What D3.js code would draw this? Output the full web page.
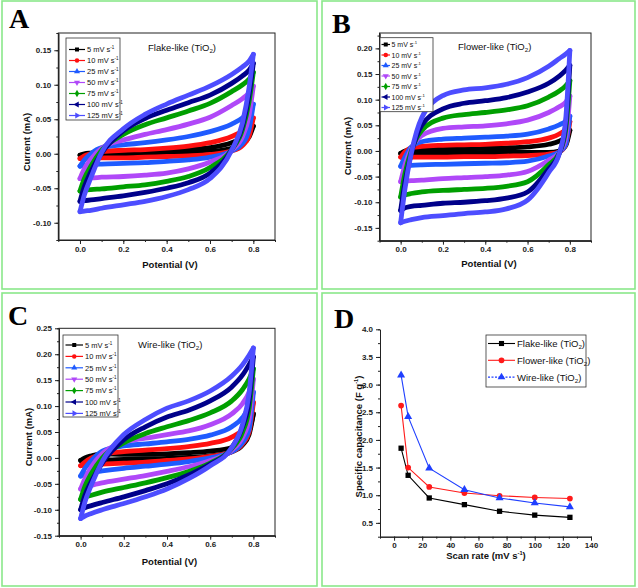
<!DOCTYPE html>
<html><head><meta charset="utf-8">
<script src="https://cdn.jsdelivr.net/npm/d3@7"></script>
<style>body{margin:0;background:#fff} svg{display:block} text{font-family:Arial,"Liberation Sans",sans-serif}</style>
</head><body><script>
// ---------- DATA ----------
const potential = [0,0.02,0.05,0.1,0.2,0.3,0.4,0.5,0.6,0.7,0.75,0.78,0.8];
const scanRates = ["5","10","25","50","75","100","125"];

// Flake-like (A): anodic (upper) and cathodic (lower) branches, current in mA at each potential
const flakeUpper = [
 [-0.002,0.000,0.001,0.002,0.002,0.003,0.004,0.006,0.009,0.016,0.023,0.030,0.040],
 [-0.007,-0.003,0.000,0.003,0.005,0.006,0.008,0.011,0.016,0.025,0.033,0.041,0.052],
 [-0.018,-0.009,0.000,0.009,0.013,0.016,0.020,0.025,0.032,0.043,0.052,0.061,0.072],
 [-0.036,-0.022,-0.008,0.008,0.020,0.028,0.035,0.043,0.053,0.070,0.080,0.088,0.098],
 [-0.054,-0.036,-0.018,0.005,0.028,0.042,0.052,0.062,0.073,0.090,0.100,0.108,0.118],
 [-0.069,-0.048,-0.026,0.001,0.033,0.051,0.063,0.074,0.085,0.102,0.113,0.121,0.131],
 [-0.084,-0.060,-0.035,0.002,0.036,0.057,0.072,0.085,0.098,0.115,0.126,0.134,0.144]];
const flakeLower = [
 [-0.002,-0.002,-0.001,-0.001,-0.001,-0.001,0.000,0.001,0.003,0.008,0.015,0.024,0.040],
 [-0.007,-0.007,-0.006,-0.006,-0.006,-0.005,-0.004,-0.003,-0.001,0.004,0.012,0.025,0.052],
 [-0.018,-0.017,-0.016,-0.015,-0.014,-0.013,-0.011,-0.009,-0.005,0.004,0.015,0.035,0.072],
 [-0.036,-0.035,-0.035,-0.034,-0.033,-0.031,-0.028,-0.022,-0.012,0.005,0.025,0.055,0.098],
 [-0.054,-0.053,-0.052,-0.051,-0.048,-0.045,-0.040,-0.033,-0.020,0.006,0.035,0.075,0.118],
 [-0.069,-0.068,-0.067,-0.065,-0.061,-0.056,-0.050,-0.042,-0.028,0.006,0.040,0.085,0.131],
 [-0.084,-0.083,-0.082,-0.079,-0.074,-0.069,-0.062,-0.052,-0.036,0.005,0.045,0.095,0.144]];

// Flower-like (B)
const flowerUpper = [
 [-0.005,0.000,0.002,0.003,0.003,0.004,0.005,0.006,0.008,0.013,0.019,0.027,0.040],
 [-0.012,-0.002,0.006,0.009,0.011,0.012,0.013,0.015,0.018,0.025,0.033,0.042,0.057],
 [-0.030,-0.012,0.008,0.018,0.023,0.025,0.027,0.029,0.033,0.043,0.051,0.058,0.068],
 [-0.060,-0.028,0.004,0.030,0.044,0.047,0.049,0.053,0.060,0.075,0.086,0.095,0.107],
 [-0.090,-0.045,0.000,0.040,0.064,0.071,0.075,0.080,0.088,0.105,0.117,0.127,0.137],
 [-0.116,-0.062,-0.005,0.050,0.082,0.093,0.098,0.104,0.115,0.132,0.146,0.157,0.167],
 [-0.140,-0.075,-0.005,0.065,0.108,0.119,0.123,0.130,0.143,0.165,0.180,0.189,0.196]];
const flowerLower = [
 [-0.005,-0.005,-0.004,-0.004,-0.004,-0.004,-0.003,-0.003,-0.003,-0.003,0.000,0.010,0.040],
 [-0.012,-0.012,-0.012,-0.012,-0.012,-0.011,-0.011,-0.010,-0.009,-0.006,-0.002,0.012,0.057],
 [-0.030,-0.029,-0.028,-0.027,-0.026,-0.025,-0.024,-0.023,-0.020,-0.010,-0.002,0.012,0.068],
 [-0.060,-0.059,-0.058,-0.057,-0.054,-0.052,-0.050,-0.047,-0.040,-0.018,-0.003,0.025,0.107],
 [-0.090,-0.086,-0.083,-0.080,-0.077,-0.075,-0.073,-0.069,-0.060,-0.027,-0.004,0.040,0.137],
 [-0.116,-0.111,-0.108,-0.106,-0.102,-0.100,-0.097,-0.092,-0.080,-0.035,-0.005,0.050,0.167],
 [-0.140,-0.137,-0.134,-0.130,-0.126,-0.122,-0.119,-0.113,-0.096,-0.042,-0.005,0.060,0.196]];

// Wire-like (C)
const wireUpper = [
 [-0.005,0.000,0.004,0.008,0.007,0.007,0.008,0.010,0.013,0.020,0.030,0.050,0.085],
 [-0.015,-0.008,0.000,0.007,0.012,0.015,0.018,0.022,0.028,0.040,0.055,0.075,0.107],
 [-0.035,-0.020,-0.005,0.013,0.023,0.027,0.031,0.036,0.044,0.060,0.078,0.100,0.127],
 [-0.060,-0.040,-0.017,0.008,0.030,0.038,0.045,0.052,0.064,0.085,0.105,0.127,0.152],
 [-0.080,-0.055,-0.030,0.000,0.029,0.047,0.060,0.072,0.087,0.110,0.132,0.152,0.172],
 [-0.100,-0.072,-0.045,-0.010,0.035,0.060,0.079,0.092,0.110,0.137,0.160,0.180,0.195],
 [-0.117,-0.085,-0.052,-0.007,0.045,0.074,0.096,0.110,0.129,0.158,0.180,0.198,0.212]];
const wireLower = [
 [-0.005,-0.005,-0.004,-0.004,-0.003,-0.002,-0.001,0.001,0.004,0.012,0.025,0.045,0.085],
 [-0.015,-0.014,-0.013,-0.012,-0.010,-0.008,-0.005,-0.002,0.003,0.012,0.027,0.050,0.107],
 [-0.035,-0.031,-0.028,-0.025,-0.020,-0.016,-0.012,-0.007,0.000,0.012,0.030,0.055,0.127],
 [-0.060,-0.057,-0.053,-0.048,-0.041,-0.034,-0.026,-0.017,-0.005,0.015,0.040,0.075,0.152],
 [-0.080,-0.076,-0.072,-0.066,-0.057,-0.048,-0.038,-0.026,-0.010,0.018,0.050,0.095,0.172],
 [-0.100,-0.096,-0.092,-0.086,-0.075,-0.063,-0.050,-0.033,-0.012,0.020,0.060,0.110,0.195],
 [-0.117,-0.112,-0.107,-0.100,-0.088,-0.075,-0.060,-0.040,-0.015,0.020,0.065,0.125,0.212]];

// Specific capacitance (D)
const scanRateValues = [5,10,25,50,75,100,125];
const capFlake  = [1.85,1.36,0.95,0.83,0.71,0.64,0.60];
const capFlower = [2.62,1.50,1.15,1.04,0.99,0.96,0.94];
const capWire   = [3.17,2.42,1.49,1.10,0.95,0.86,0.79];
const capSeriesNames = ["Flake-like","Flower-like","Wire-like"];

// tick labels
const cvXTicks = [0.0,0.2,0.4,0.6,0.8];
const aYTicks = [-0.10,-0.05,0.00,0.05,0.10,0.15];
const bYTicks = [-0.15,-0.10,-0.05,0.00,0.05,0.10,0.15,0.20];
const cYTicks = [-0.15,-0.10,-0.05,0.00,0.05,0.10,0.15,0.20,0.25];
const dYTicks = [0.5,1.0,1.5,2.0,2.5,3.0,3.5,4.0];
const dXTicks = [0,20,40,60,80,100,120,140];

// ---------- STYLE ----------
const rateColors = ["#000000","#ff1010","#1f5bff","#b048f8","#009f00","#00008a","#4d4dff"];
const rateSymbols = ["square","circle","up","down","diamond","left","right"];
const capColors = ["#000000","#ff1a1a","#1f3fff"];
const capSymbols = ["square","circle","up"];
const SERIF = '"Liberation Serif","Times New Roman","DejaVu Serif",serif';

const svg = d3.select("body").append("svg").attr("width",638).attr("height",588);
svg.append("rect").attr("width",638).attr("height",588).attr("fill","#fff");

function symbolPath(kind,size){
  const t = {square:d3.symbolSquare,circle:d3.symbolCircle,up:d3.symbolTriangle,down:d3.symbolTriangle,
             diamond:d3.symbolDiamond,left:d3.symbolTriangle,right:d3.symbolTriangle}[kind];
  return d3.symbol().type(t).size(size)();
}
const symRot = {square:0,circle:0,up:0,down:180,diamond:0,left:-90,right:90};

function sup(textSel, main, supTxt, fs){
  textSel.text(null);
  textSel.append("tspan").text(main);
  textSel.append("tspan").attr("font-size",fs*0.6).attr("dy",-fs*0.4).text(supTxt);
}
function tio2(textSel, main, fs){
  textSel.append("tspan").text(main+" (TiO");
  textSel.append("tspan").attr("font-size",fs*0.65).attr("dy",fs*0.25).text("2");
  textSel.append("tspan").attr("dy",-fs*0.25).text(")");
}

// panel borders
[[2,1,315,288],[322,1,313,288],[2,293,315,293],[322,293,313,293]].forEach(b=>{
  svg.append("rect").attr("x",b[0]).attr("y",b[1]).attr("width",b[2]).attr("height",b[3])
    .attr("fill","none").attr("stroke","#8ae88a").attr("stroke-width",1.6);
});

function axesFor(g, x, y, xMaj, xMin, yMaj, yMin, fx, fy){
  const x0 = x.range()[0], y0 = y.range()[0];
  const ax = g.append("g").attr("transform",`translate(0,${y0})`);
  ax.append("g").call(d3.axisBottom(x).tickValues(xMin).tickSize(2).tickSizeOuter(0).tickFormat(""));
  ax.append("g").call(d3.axisBottom(x).tickValues(xMaj).tickSize(4).tickSizeOuter(0).tickPadding(2).tickFormat(fx));
  const ay = g.append("g").attr("transform",`translate(${x0},0)`);
  ay.append("g").call(d3.axisLeft(y).tickValues(yMin).tickSize(2).tickSizeOuter(0).tickFormat(""));
  ay.append("g").call(d3.axisLeft(y).tickValues(yMaj).tickSize(4).tickSizeOuter(0).tickPadding(3).tickFormat(fy));
  g.selectAll(".domain").attr("stroke","#222");
  g.selectAll(".tick line").attr("stroke","#222");
  g.selectAll(".tick text").attr("font-family","Arial, Liberation Sans, sans-serif")
    .attr("font-size",8).attr("font-weight","bold").attr("fill","#222");
}
function minorRange(lo,hi,step){ const n=Math.round((hi-lo)/step); return d3.range(n+1).map(i=>+(lo+i*step).toFixed(4)); }

function panelLetter(g,x,y,txt){
  g.append("text").attr("x",x).attr("y",y).style("font-family",SERIF)
    .attr("font-size",28).attr("font-weight","bold").attr("fill","#000").text(txt);
}

function cvPanel(cfg){
  const g = svg.append("g");
  const x = d3.scaleLinear().domain([-0.1,0.9]).range([cfg.l,cfg.r]);
  const y = d3.scaleLinear().domain(cfg.yDom).range([cfg.b,cfg.t]);
  const line = d3.line().x(d=>x(d[0])).y(d=>y(d[1])).curve(d3.curveMonotoneX);
  scanRates.forEach((r,i)=>{
    [cfg.upper[i], cfg.lower[i]].forEach(arr=>{
      g.append("path").attr("d", line(potential.map((p,k)=>[p,arr[k]])))
        .attr("fill","none").attr("stroke",rateColors[i]).attr("stroke-width",4.8)
        .attr("stroke-linejoin","round").attr("stroke-linecap","round");
    });
  });
  g.append("rect").attr("x",cfg.l).attr("y",cfg.t).attr("width",cfg.r-cfg.l).attr("height",cfg.b-cfg.t)
    .attr("fill","none").attr("stroke","#222").attr("stroke-width",1);
  axesFor(g,x,y,cvXTicks,minorRange(-0.1,0.9,0.1),cfg.yTicks,minorRange(cfg.yMinLo,cfg.yMinHi,0.025),
    d=>d.toFixed(1), d=>d.toFixed(2));
  g.append("text").attr("x",cfg.xl[0]).attr("y",cfg.xl[1]).attr("text-anchor","middle")
    .attr("font-size",9.5).attr("font-weight","bold").attr("fill","#111").text("Potential (V)");
  g.append("text").attr("transform",`translate(${cfg.yl[0]},${cfg.yl[1]}) rotate(-90)`).attr("text-anchor","middle")
    .attr("font-size",9.5).attr("font-weight","bold").attr("fill","#111").text("Current (mA)");
  const tt = g.append("text").attr("x",cfg.title[0]).attr("y",cfg.title[1]).attr("font-size",9.5).attr("fill","#111");
  tio2(tt,cfg.titleText,9.5);
  panelLetter(g,cfg.letter[0],cfg.letter[1],cfg.letterText);
  const L = cfg.leg;
  g.append("rect").attr("x",L.x).attr("y",L.y).attr("width",L.w).attr("height",L.h)
    .attr("fill","#fff").attr("stroke","#333").attr("stroke-width",0.8);
  scanRates.forEach((r,i)=>{
    const yy = L.y0 + i*L.dy;
    g.append("line").attr("x1",L.lx0).attr("x2",L.lx1).attr("y1",yy).attr("y2",yy).attr("stroke",rateColors[i]).attr("stroke-width",1.2);
    g.append("path").attr("d",symbolPath(rateSymbols[i],16))
      .attr("transform",`translate(${(L.lx0+L.lx1)/2},${yy}) rotate(${symRot[rateSymbols[i]]})`).attr("fill",rateColors[i]);
    const t = g.append("text").attr("x",L.tx).attr("y",yy+L.fs*0.36).attr("font-size",L.fs).attr("fill","#111");
    sup(t, r+" mV s", "-1", L.fs);
  });
}

cvPanel({l:58.3,r:275,t:33,b:240,yDom:[-0.125,0.175],yTicks:aYTicks,yMinLo:-0.125,yMinHi:0.175,
  upper:flakeUpper,lower:flakeLower,xl:[170,268],yl:[30,142],title:[148,50.5],titleText:"Flake-like",
  letter:[9,27.5],letterText:"A",
  leg:{x:66,y:38,w:54,h:82,y0:49.5,dy:11,lx0:69,lx1:85,tx:87,fs:7.5}});
cvPanel({l:379.5,r:591,t:33,b:240.7,yDom:[-0.175,0.23],yTicks:bYTicks,yMinLo:-0.175,yMinHi:0.225,
  upper:flowerUpper,lower:flowerLower,xl:[489,266.5],yl:[351,146],title:[458,50],titleText:"Flower-like",
  letter:[332,33],letterText:"B",
  leg:{x:380,y:37.7,w:53,h:74,y0:44.5,dy:10.5,lx0:381.5,lx1:390,tx:391.5,fs:7}});
cvPanel({l:59,r:275,t:328.3,b:535.7,yDom:[-0.15,0.25],yTicks:cYTicks,yMinLo:-0.15,yMinHi:0.25,
  upper:wireUpper,lower:wireLower,xl:[169.5,565],yl:[31.5,437],title:[138,348],titleText:"Wire-like",
  letter:[8,325],letterText:"C",
  leg:{x:63,y:335,w:55,h:82,y0:345,dy:11.4,lx0:65.5,lx1:83,tx:85,fs:7.5}});

// ---------- Panel D ----------
(function(){
  const g = svg.append("g");
  const l=380,r=591,t=329.3,b=536.7;
  const x = d3.scaleLinear().domain([-10,140]).range([l,r]);
  const y = d3.scaleLinear().domain([0.25,4.0]).range([b,t]);
  axesFor(g,x,y,dXTicks,minorRange(-10,140,10),dYTicks,minorRange(0.25,4.0,0.25),d=>String(d),d=>d.toFixed(1));
  const series = [capFlake,capFlower,capWire];
  const line = d3.line().x((d,i)=>x(scanRateValues[i])).y(d=>y(d));
  series.forEach((s,k)=>{
    g.append("path").attr("d",line(s)).attr("fill","none").attr("stroke",capColors[k]).attr("stroke-width",1.1);
    s.forEach((v,i)=>{
      g.append("path").attr("d",symbolPath(capSymbols[k],k===1?26:28))
        .attr("transform",`translate(${x(scanRateValues[i])},${y(v)})`).attr("fill",capColors[k]);
    });
  });
  const xt = g.append("text").attr("x",486).attr("y",559).attr("text-anchor","middle")
    .attr("font-size",9.5).attr("font-weight","bold").attr("fill","#111");
  sup(xt,"Scan rate (mV s","-1",9.5); xt.append("tspan").attr("dy",9.5*0.4).text(")");
  const yt = g.append("text").attr("transform","translate(361.5,436.5) rotate(-90)").attr("text-anchor","middle")
    .attr("font-size",9.5).attr("font-weight","bold").attr("fill","#111");
  sup(yt,"Specific capacitance (F g","-1",9.5); yt.append("tspan").attr("dy",9.5*0.4).text(")");
  panelLetter(g,334,328,"D");
  g.append("rect").attr("x",486).attr("y",335).attr("width",100).attr("height",52)
    .attr("fill","#fff").attr("stroke","#333").attr("stroke-width",0.8);
  capSeriesNames.forEach((n,k)=>{
    const yy = 343.5 + k*16.8;
    g.append("line").attr("x1",488).attr("x2",515).attr("y1",yy).attr("y2",yy).attr("stroke",capColors[k]).attr("stroke-width",1.1)
      .attr("stroke-dasharray",k===2?"2,1.5":null);
    g.append("path").attr("d",symbolPath(capSymbols[k],26)).attr("transform",`translate(501.5,${yy})`).attr("fill",capColors[k]);
    const tx = g.append("text").attr("x",517).attr("y",yy+3.4).attr("font-size",9.5).attr("fill","#111");
    tio2(tx,n,9.5);
  });
})();
</script></body></html>
